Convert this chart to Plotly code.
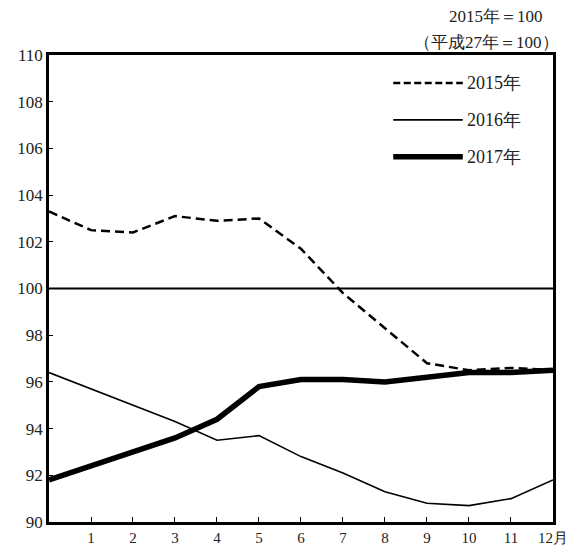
import plotly.graph_objects as go

# Monthly index values (2015 = 100), plotted at positions 0..12
months = list(range(13))
tick_vals = list(range(1, 13))
tick_text = [str(m) for m in range(1, 12)] + ["12月"]

y2015 = [103.3, 102.5, 102.4, 103.1, 102.9, 103.0, 101.7, 99.8, 98.3, 96.8, 96.5, 96.6, 96.5]
y2016 = [96.4, 95.7, 95.0, 94.3, 93.5, 93.7, 92.8, 92.1, 91.3, 90.8, 90.7, 91.0, 91.8]
y2017 = [91.8, 92.4, 93.0, 93.6, 94.4, 95.8, 96.1, 96.1, 96.0, 96.2, 96.4, 96.4, 96.5]

series_names = ["2015年", "2016年", "2017年"]
base_value = 100

FONT = "Liberation Serif"
styles = [
    dict(width=2.5, dash="9px,5px"),
    dict(width=1.6, dash="solid"),
    dict(width=5.5, dash="solid"),
]

fig = go.Figure()
for name, ys, st in zip(series_names, [y2015, y2016, y2017], styles):
    fig.add_trace(go.Scatter(
        x=months, y=ys, mode="lines", name=name,
        line=dict(color="black", width=st["width"], dash=st["dash"]),
        showlegend=False,
    ))

# Reference line at the base value
fig.add_shape(type="line", xref="paper", x0=0, x1=1, yref="y", y0=base_value, y1=base_value,
              line=dict(color="black", width=2))

# Hand-drawn legend in the upper right
legend_rows = [0.940, 0.861, 0.782]
legend_dash = ["7px,3.5px", "solid", "solid"]
for name, yr, st, dsh in zip(series_names, legend_rows, styles, legend_dash):
    fig.add_shape(type="line", xref="paper", yref="paper", x0=0.683, x1=0.821, y0=yr, y1=yr,
                  line=dict(color="black", width=st["width"], dash=dsh))
    fig.add_annotation(xref="paper", yref="paper", x=0.826, y=yr, text=name, showarrow=False,
                       xanchor="left", yanchor="middle", font=dict(family=FONT, size=18, color="#222"))

# Unit note above the plot
fig.add_annotation(xref="paper", yref="paper", x=0.984, y=1.0, yshift=39, text="2015年＝100",
                   showarrow=False, xanchor="right", yanchor="middle",
                   font=dict(family=FONT, size=17, color="#222"))
fig.add_annotation(xref="paper", yref="paper", x=1.0, y=1.0, xshift=8, yshift=13,
                   text="（平成27年＝100）",
                   showarrow=False, xanchor="right", yanchor="middle",
                   font=dict(family=FONT, size=17, color="#222"))

fig.update_layout(
    width=568, height=551,
    margin=dict(l=49, r=15, t=55, b=29, autoexpand=False),
    paper_bgcolor="white", plot_bgcolor="white",
    font=dict(family=FONT, size=16, color="#222"),
)
fig.update_xaxes(
    range=[0, 12.001], tickvals=tick_vals, ticktext=tick_text,
    ticklabeloverflow="allow", automargin=False,
    showgrid=False, zeroline=False,
    showline=True, mirror=True, linecolor="black", linewidth=2.5,
    ticks="inside", ticklen=5, tickcolor="black", tickwidth=1,
    tickfont=dict(family=FONT, size=15, color="#222"),
)
fig.update_yaxes(
    range=[90, 110], dtick=2, tick0=90, automargin=False,
    showgrid=False, zeroline=False,
    showline=True, mirror=True, linecolor="black", linewidth=2.5,
    ticks="inside", ticklen=4, tickcolor="black", tickwidth=1,
    tickfont=dict(family=FONT, size=17, color="#222"),
)

fig.write_html("out.html")
